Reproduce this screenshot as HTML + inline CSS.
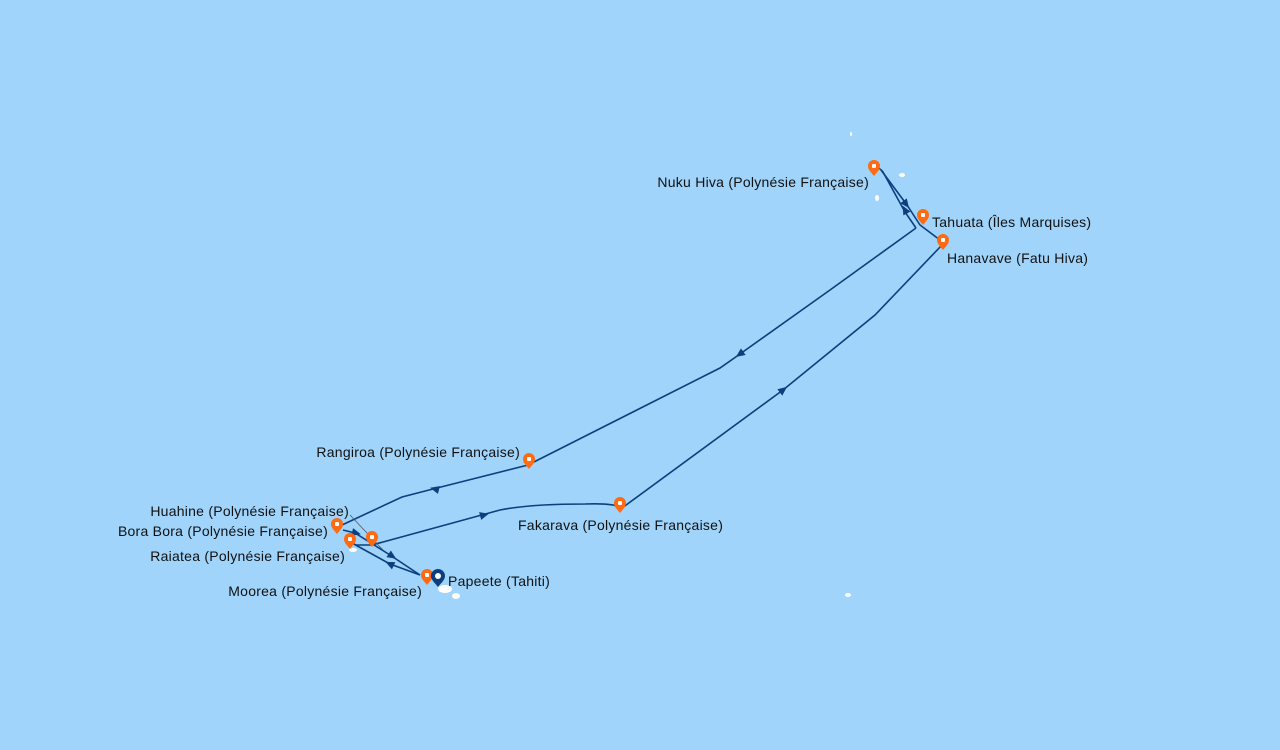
<!DOCTYPE html>
<html><head><meta charset="utf-8"><style>
html,body{margin:0;padding:0;background:#a0d4fb;}
svg{display:block}
text{font-family:"Liberation Sans",sans-serif;font-size:14px;fill:#111;letter-spacing:0.25px;}
</style></head><body>
<svg width="1280" height="750" viewBox="0 0 1280 750">
<defs>
<g id="pin"><path d="M0,0 C-3,-4 -6,-6 -6,-10 A6,6 0 1 1 6,-10 C6,-6 3,-4 0,0Z" fill="#ff6a13"/><rect x="-2" y="-12" width="4" height="4" fill="#fff" rx="1"/></g>
<g id="bpin"><path d="M0,0 C-3,-4 -7,-7 -7,-11 A7,7 0 1 1 7,-11 C7,-7 3,-4 0,0Z" fill="#0c3f7e"/><circle cx="0" cy="-11" r="3" fill="#fff"/></g>
<path id="ar" d="M5,0 L-4,-4 L-4,4Z" fill="#0c3f7e"/>
</defs>
<g fill="#fff">
<ellipse cx="445" cy="589" rx="7" ry="4"/><ellipse cx="456" cy="596" rx="4" ry="3"/>
<ellipse cx="353" cy="550" rx="4" ry="2"/><ellipse cx="902" cy="175" rx="3" ry="2"/><ellipse cx="877" cy="198" rx="2" ry="3"/>
<ellipse cx="848" cy="595" rx="3" ry="2"/><ellipse cx="851" cy="134" rx="1" ry="2"/>
</g>
<g fill="none" stroke="#0c3f7e" stroke-width="1.6">
<polyline points="916,228 830,290 740,354 720,368 528,465 433,489 402,497 342,525"/>
<path d="M916,228 L905,212 L883,172 Q880,168 877,168" />
<path d="M881,170 L907,205 L920,225 L940,240"/>
<path d="M942,245 L875,315 L783,390 L622,508 Q615,503 585,504 Q530,504 500,510 L372,545 L355,545"/>
<path d="M343,530 L355,533 L390,555 L420,575"/>
<path d="M420,575 L390,564 L352,543"/>
</g>
<line x1="350" y1="515" x2="383" y2="550" stroke="#555" stroke-width="0.8"/>
<use href="#ar" transform="translate(435,489) rotate(194)"/>
<use href="#ar" transform="translate(740,354) rotate(145)"/>
<use href="#ar" transform="translate(783,390) rotate(-38)"/>
<use href="#ar" transform="translate(484,515) rotate(-15)"/>
<use href="#ar" transform="translate(905,210) rotate(-118)"/>
<use href="#ar" transform="translate(906,204) rotate(53)"/>
<use href="#ar" transform="translate(356,533) rotate(14)"/>
<use href="#ar" transform="translate(392,556) rotate(33)"/>
<use href="#ar" transform="translate(390,564) rotate(-155)"/>
<g>
<use href="#pin" x="874" y="176"/><use href="#pin" x="923" y="225"/><use href="#pin" x="943" y="250"/>
<use href="#pin" x="529" y="469"/><use href="#pin" x="620" y="513"/><use href="#pin" x="337" y="534"/>
<use href="#pin" x="372" y="547"/><use href="#pin" x="350" y="549"/><use href="#pin" x="427" y="585"/>
<use href="#bpin" x="438" y="587"/>
</g>
<text x="869" y="187" text-anchor="end">Nuku Hiva (Polynésie Française)</text>
<text x="932" y="227">Tahuata (Îles Marquises)</text>
<text x="947" y="263">Hanavave (Fatu Hiva)</text>
<text x="520" y="457" text-anchor="end">Rangiroa (Polynésie Française)</text>
<text x="349" y="516" text-anchor="end">Huahine (Polynésie Française)</text>
<text x="328" y="536" text-anchor="end">Bora Bora (Polynésie Française)</text>
<text x="345" y="561" text-anchor="end">Raiatea (Polynésie Française)</text>
<text x="422" y="596" text-anchor="end">Moorea (Polynésie Française)</text>
<text x="448" y="586">Papeete (Tahiti)</text>
<text x="518" y="530">Fakarava (Polynésie Française)</text>
</svg>
</body></html>
